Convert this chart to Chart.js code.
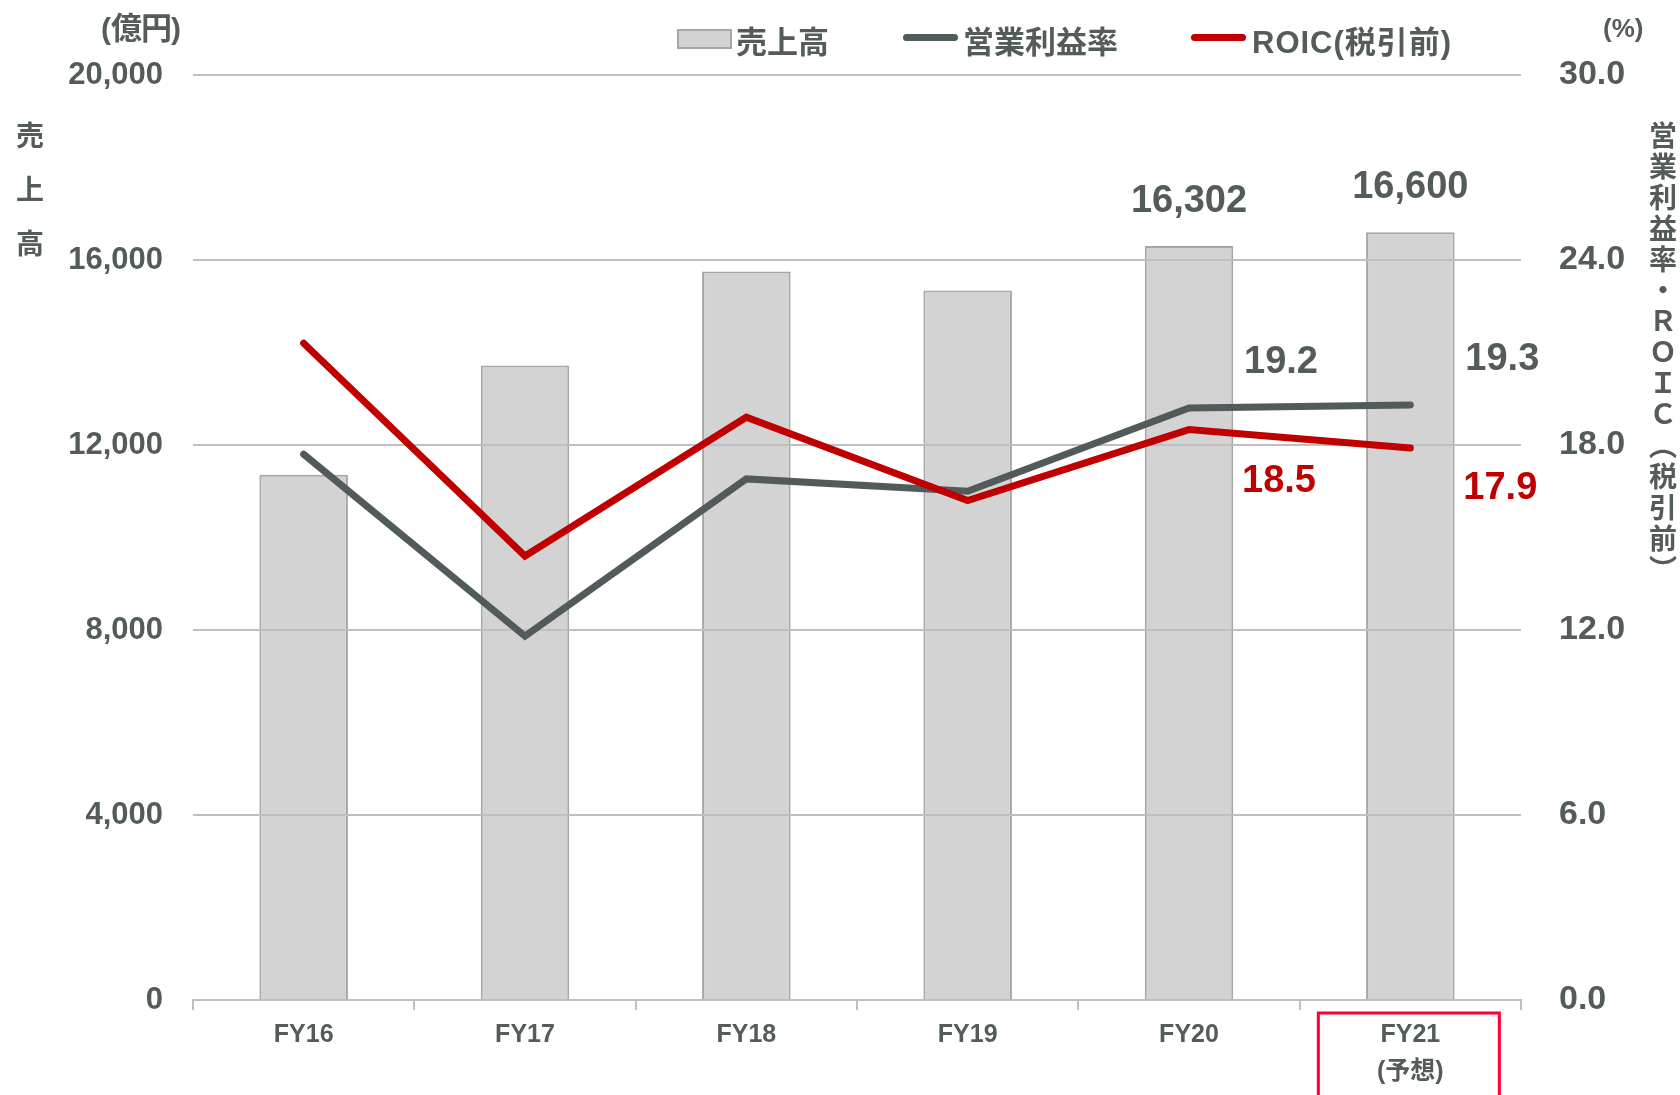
<!DOCTYPE html>
<html lang="ja">
<head>
<meta charset="utf-8">
<title>売上高・営業利益率・ROIC</title>
<script src="https://cdn.jsdelivr.net/npm/chart.js@4/dist/chart.umd.min.js"></script>
<style>
  html, body { margin: 0; padding: 0; background: #fff; }
  #wrap { position: relative; width: 1680px; height: 1095px; overflow: hidden; }
  #chart { position: absolute; left: 0; top: 0; }
  .txt {
    position: absolute; color: #535b5b; font-weight: bold; white-space: nowrap;
    font-family: "Liberation Sans", "Noto Sans CJK JP", sans-serif;
  }
  .cjk { font-family: "Noto Sans CJK JP", sans-serif; }
  .vert { writing-mode: vertical-rl; text-orientation: upright; font-family: "Noto Sans CJK JP", sans-serif; }
  .sw-bar { position: absolute; width: 51px; height: 16px; background: #d3d3d3; border: 2px solid #a6a6a6; }
  .sw-line { position: absolute; width: 55px; height: 7px; border-radius: 4px; }
</style>
</head>
<body>
<div id="wrap">
  <canvas id="chart" width="1680" height="1095"></canvas>

  <div class="txt" style="left:101px; top:6px; font-size:30px; line-height:40px;">(<span class="cjk" style="font-size:31px; letter-spacing:-1px;">億円</span>)</div>
  <div class="txt" style="left:1603px; top:13px; font-size:26px;">(%)</div>

  <div class="txt vert" style="left:10px; top:121px; font-size:28px; letter-spacing:26px;">売上高</div>
  <div class="txt vert" style="left:1643px; top:121px; font-size:28px; letter-spacing:3px;">営業利益率・ＲＯＩＣ（税引前）</div>

  <div class="sw-bar" style="left:677px; top:29px;"></div>
  <div class="txt" style="left:736px; top:17px; font-size:31px;">売上高</div>
  <div class="sw-line" style="left:903px; top:34px; background:#525b5b;"></div>
  <div class="txt" style="left:963px; top:17px; font-size:31px;">営業利益率</div>
  <div class="sw-line" style="left:1191px; top:34px; background:#c00000;"></div>
  <div class="txt" style="left:1252px; top:17px; font-size:31px; letter-spacing:1px;">ROIC(税引前)</div>
</div>

<script>
"use strict";

const categories = ["FY16", "FY17", "FY18", "FY19", "FY20", ["FY21", "(予想)"]];
const sales = [11356, 13718, 15750, 15340, 16302, 16600];      // 億円
const opMargin = [17.7, 11.8, 16.9, 16.5, 19.2, 19.3];          // %
const roic = [21.3, 14.4, 18.9, 16.2, 18.5, 17.9];              // %
// which points carry a value label
const labelled = [4, 5];

const INK = "#535b5b";
const GRID = "#bfbfbf";
const GREY_LINE = "#525b5b";
const RED_LINE = "#c00000";
const FONT = '"Liberation Sans", "Noto Sans CJK JP", sans-serif';

/* Gridlines sit on top of the bars in the original, so repaint them after
 * the bar dataset and before the two lines. Also value labels + FY21 frame. */
const overlay = {
  id: "overlay",
  afterDatasetDraw(chart, args) {
    if (args.index !== 0) return;
    const { ctx, chartArea, scales } = chart;
    ctx.save();
    ctx.strokeStyle = GRID;
    ctx.lineWidth = 2;
    for (const t of scales.y.ticks) {
      if (t.value === 0) continue;
      const y = Math.round(scales.y.getPixelForValue(t.value));
      ctx.beginPath();
      ctx.moveTo(chartArea.left, y);
      ctx.lineTo(chartArea.right, y);
      ctx.stroke();
    }
    ctx.restore();
  },
  afterDatasetsDraw(chart) {
    const { ctx, scales } = chart;
    const x = scales.x, y = scales.y, y1 = scales.y1;
    ctx.save();
    ctx.font = `bold 38px ${FONT}`;
    ctx.textAlign = "center";
    ctx.textBaseline = "middle";
    for (const i of labelled) {
      const px = x.getPixelForValue(i);
      ctx.fillStyle = INK;
      ctx.fillText(sales[i].toLocaleString("en-US"), px, y.getPixelForValue(sales[i]) - 45);
      ctx.fillText(opMargin[i].toFixed(1), px + 92, y1.getPixelForValue(opMargin[i]) - 45);
      ctx.fillStyle = RED_LINE;
      ctx.fillText(roic[i].toFixed(1), px + 90, y1.getPixelForValue(roic[i]) + (i === 4 ? 52 : 40));
    }
    // forecast frame around the last category label
    const cx = x.getPixelForValue(categories.length - 1);
    ctx.strokeStyle = "#ff0033";
    ctx.lineWidth = 3;
    ctx.strokeRect(cx - 92, 1013, 181, 100);
    ctx.restore();
  },
};

new Chart(document.getElementById("chart"), {
  data: {
    labels: categories,
    datasets: [
      {
        type: "bar", label: "売上高", data: sales, yAxisID: "y", order: 3,
        backgroundColor: "#d3d3d3", borderColor: "#a6a6a6", borderWidth: 2,
        barPercentage: 0.4, categoryPercentage: 1,
      },
      {
        type: "line", label: "営業利益率", data: opMargin, yAxisID: "y1", order: 2,
        borderColor: GREY_LINE, borderWidth: 7, pointRadius: 0, tension: 0,
        borderCapStyle: "round", borderJoinStyle: "miter",
      },
      {
        type: "line", label: "ROIC(税引前)", data: roic, yAxisID: "y1", order: 1,
        borderColor: RED_LINE, borderWidth: 7, pointRadius: 0, tension: 0,
        borderCapStyle: "round", borderJoinStyle: "miter",
      },
    ],
  },
  options: {
    responsive: false,
    animation: false,
    layout: { padding: { top: 75, left: 0, right: 0, bottom: 0 } },
    plugins: { legend: { display: false }, tooltip: { enabled: false } },
    scales: {
      x: {
        grid: { offset: true, drawOnChartArea: false, color: GRID, lineWidth: 2, tickLength: 10, tickColor: GRID },
        border: { color: GRID, width: 2 },
        ticks: { color: INK, font: { family: FONT, size: 25, weight: "bold", lineHeight: 1.5 }, padding: 6, maxRotation: 0 },
        afterFit: (s) => { s.height = 95; },
      },
      y: {
        position: "left", min: 0, max: 20000,
        grid: { color: GRID, lineWidth: 2, drawTicks: false },
        border: { display: false },
        ticks: {
          stepSize: 4000, padding: 30, color: INK,
          font: { family: FONT, size: 31, weight: "bold" },
          callback: (v) => v.toLocaleString("en-US"),
        },
        afterFit: (s) => { s.width = 193; },
      },
      y1: {
        position: "right", min: 0, max: 30,
        grid: { display: false, drawTicks: false },
        border: { display: false },
        ticks: {
          stepSize: 6, padding: 38, color: INK,
          font: { family: FONT, size: 34, weight: "bold" },
          callback: (v) => v.toFixed(1),
        },
        afterFit: (s) => { s.width = 159; },
      },
    },
  },
  plugins: [overlay],
});
</script>
</body>
</html>
